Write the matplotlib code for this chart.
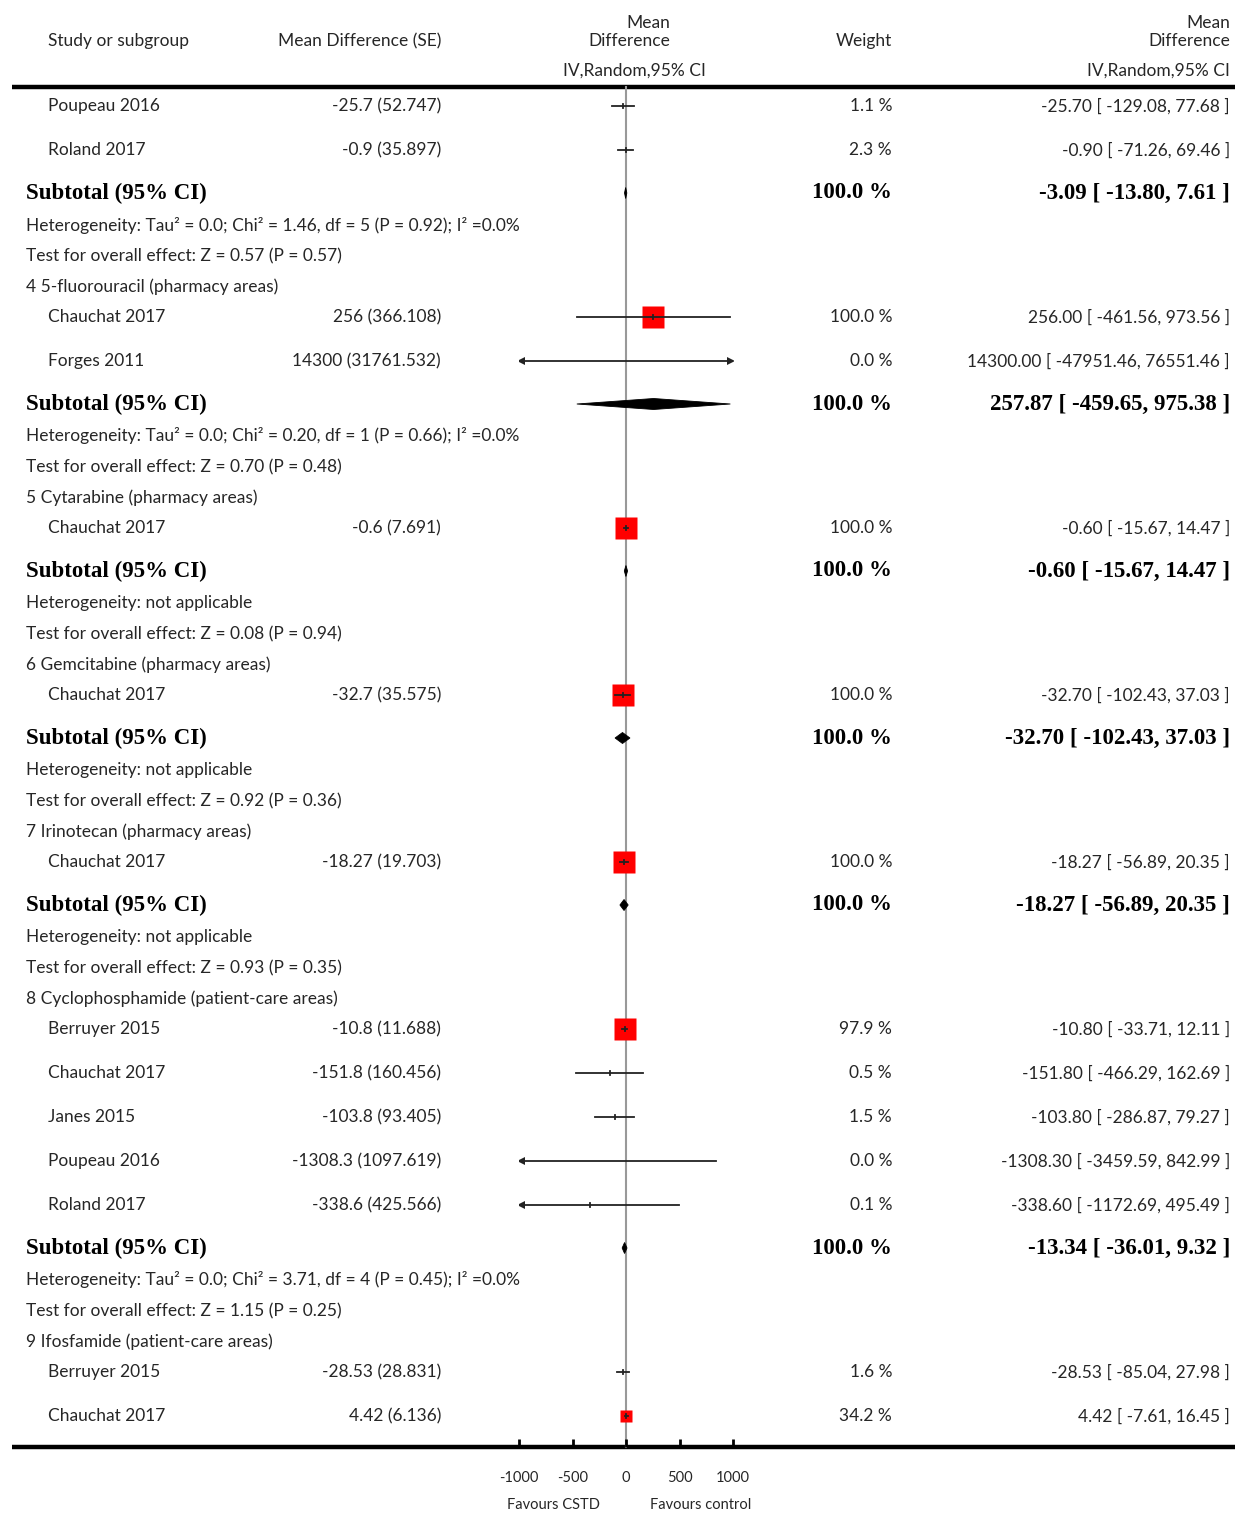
import matplotlib
matplotlib.use('Agg')
import matplotlib.pyplot as plt
import numpy as np

# --- data ---
group_titles = [None,
                '4 5-fluorouracil (pharmacy areas)',
                '5 Cytarabine (pharmacy areas)',
                '6 Gemcitabine (pharmacy areas)',
                '7 Irinotecan (pharmacy areas)',
                '8 Cyclophosphamide (patient-care areas)',
                '9 Ifosfamide (patient-care areas)']
study_names = [['Poupeau 2016', 'Roland 2017'],
               ['Chauchat 2017', 'Forges 2011'],
               ['Chauchat 2017'],
               ['Chauchat 2017'],
               ['Chauchat 2017'],
               ['Berruyer 2015', 'Chauchat 2017', 'Janes 2015', 'Poupeau 2016', 'Roland 2017'],
               ['Berruyer 2015', 'Chauchat 2017']]
study_md = [[-25.7, -0.9], [256, 14300], [-0.6], [-32.7], [-18.27],
            [-10.8, -151.8, -103.8, -1308.3, -338.6], [-28.53, 4.42]]
study_se = [[52.747, 35.897], [366.108, 31761.532], [7.691], [35.575], [19.703],
            [11.688, 160.456, 93.405, 1097.619, 425.566], [28.831, 6.136]]
study_weight = [[1.1, 2.3], [100.0, 0.0], [100.0], [100.0], [100.0],
                [97.9, 0.5, 1.5, 0.0, 0.1], [1.6, 34.2]]
study_lo = [[-129.08, -71.26], [-461.56, -47951.46], [-15.67], [-102.43], [-56.89],
            [-33.71, -466.29, -286.87, -3459.59, -1172.69], [-85.04, -7.61]]
study_hi = [[77.68, 69.46], [973.56, 76551.46], [14.47], [37.03], [20.35],
            [12.11, 162.69, 79.27, 842.99, 495.49], [27.98, 16.45]]

sub_md = [-3.09, 257.87, -0.60, -32.70, -18.27, -13.34]
sub_lo = [-13.80, -459.65, -15.67, -102.43, -56.89, -36.01]
sub_hi = [7.61, 975.38, 14.47, 37.03, 20.35, 9.32]
heterogeneity = ['Heterogeneity: Tau² = 0.0; Chi² = 1.46, df = 5 (P = 0.92); I² =0.0%',
                 'Heterogeneity: Tau² = 0.0; Chi² = 0.20, df = 1 (P = 0.66); I² =0.0%',
                 'Heterogeneity: not applicable',
                 'Heterogeneity: not applicable',
                 'Heterogeneity: not applicable',
                 'Heterogeneity: Tau² = 0.0; Chi² = 3.71, df = 4 (P = 0.45); I² =0.0%']
overall = ['Test for overall effect: Z = 0.57 (P = 0.57)',
           'Test for overall effect: Z = 0.70 (P = 0.48)',
           'Test for overall effect: Z = 0.08 (P = 0.94)',
           'Test for overall effect: Z = 0.92 (P = 0.36)',
           'Test for overall effect: Z = 0.93 (P = 0.35)',
           'Test for overall effect: Z = 1.15 (P = 0.25)']

x_ticks = [-1000, -500, 0, 500, 1000]
x_ticklabels = ['-1000', '-500', '0', '500', '1000']
favours_left = 'Favours CSTD'
favours_right = 'Favours control'

W, H = 1235, 1514
XLIM = 1000
SANS = ['Lato', 'DejaVu Sans']
SERIF = ['Liberation Serif', 'DejaVu Serif']
FS = 12.5
BFS = 16.5
TXT = '#262626'


def fmt(v):
    return f'{v:.10g}'


def label(x, y, s, ha='left', size=FS):
    ax.text(x, y, s, ha=ha, va='center', fontsize=size, family=SANS, color=TXT)


def bold(x, y, s, ha='left'):
    ax.text(x, y, s, ha=ha, va='center', fontsize=BFS, family=SERIF,
            fontweight='bold', color='black')


def study_row(y, name, md, se, w, lo, hi):
    label(48, y, name)
    label(441, y, f'{fmt(md)} ({fmt(se)})', ha='right')
    label(892, y, f'{w:.1f} %', ha='right')
    label(1230, y, f'{md:.2f} [ {lo:.2f}, {hi:.2f} ]', ha='right')
    # square sized by weight
    side = 22 * np.sqrt(w / 100.0)
    if w < 50:
        side *= 0.86
    if -XLIM < md < XLIM and side > 5:
        fx.plot(md, y, marker='s', ms=side * 0.72, mfc='#ff0000', mec='none', zorder=3)
    a, b = max(lo, -XLIM), min(hi, XLIM)
    fx.plot([a, b], [y, y], color='#222222', lw=1.3, zorder=4)
    if -XLIM < md < XLIM:
        fx.plot([md, md], [y - 2, y + 2], color='#222222', lw=1.3, zorder=4)
    if lo < -XLIM:
        fx.plot(-XLIM + 15, y, marker='<', ms=6, mew=0, color='#222222', zorder=4)
    if hi > XLIM:
        fx.plot(XLIM - 15, y, marker='>', ms=6, mew=0, color='#222222', zorder=4)


fig = plt.figure(figsize=(W / 100, H / 100), dpi=100)
# table axes in pixel units, forest axes in mean-difference units
ax = fig.add_axes([0, 0, 1, 1])
ax.set_xlim(0, W)
ax.set_ylim(H, 0)
ax.axis('off')

x0_px, x1_px = 519, 733
fx = fig.add_axes([x0_px / W, 0, (x1_px - x0_px) / W, 1])
fx.set_xlim(-XLIM, XLIM)
fx.set_ylim(H, 0)
fx.axis('off')

# header
label(48, 41, 'Study or subgroup')
label(441, 41, 'Mean Difference (SE)', ha='right')
label(670, 23, 'Mean', ha='right')
label(670, 41, 'Difference', ha='right')
label(634, 71, 'IV,Random,95% CI', ha='center')
label(892, 41, 'Weight', ha='right')
label(1230, 23, 'Mean', ha='right')
label(1230, 41, 'Difference', ha='right')
label(1230, 71, 'IV,Random,95% CI', ha='right')
ax.plot([12, W], [87, 87], color='black', lw=3.2, solid_capstyle='butt')

# body
y = 106
for g in range(len(group_titles)):
    if group_titles[g] is not None:
        label(26, y, group_titles[g])
        y += 30
    for i, name in enumerate(study_names[g]):
        study_row(y, name, study_md[g][i], study_se[g][i], study_weight[g][i],
                  study_lo[g][i], study_hi[g][i])
        y += 44
    if g >= len(sub_md):
        break  # last subgroup is cut off before its subtotal
    y -= 1
    bold(26, y, 'Subtotal (95% CI)')
    bold(892, y, '100.0 %', ha='right')
    bold(1230, y, f'{sub_md[g]:.2f} [ {sub_lo[g]:.2f}, {sub_hi[g]:.2f} ]', ha='right')
    fx.fill([sub_lo[g], sub_md[g], sub_hi[g], sub_md[g]],
            [y, y - 5.5, y, y + 5.5], color='black', lw=0.6, zorder=4)
    y += 32
    label(26, y, heterogeneity[g])
    y += 31
    label(26, y, overall[g])
    y += 31

# no-effect line and bottom rule
fx.plot([0, 0], [87, 1447], color='#999999', lw=1.5, zorder=1)
ax.plot([12, W], [1447, 1447], color='black', lw=3.2, solid_capstyle='butt')

# x axis
axx = fig.add_axes([x0_px / W, 1 - 1447 / H, (x1_px - x0_px) / W, 0.0001])
axx.set_xlim(-XLIM, XLIM)
axx.set_yticks([])
for s in axx.spines.values():
    s.set_visible(False)
axx.patch.set_alpha(0)
axx.set_xticks(x_ticks)
axx.set_xticklabels(x_ticklabels, family=SANS, fontsize=10.5, color=TXT)
axx.tick_params(axis='x', direction='in', length=6, width=2, color='black', pad=17)
fx.text(-682, 1505, favours_left, ha='center', va='center', fontsize=10.5,
        family=SANS, color=TXT)
fx.text(701, 1505, favours_right, ha='center', va='center', fontsize=10.5,
        family=SANS, color=TXT)

fig.savefig('out.png', dpi=100)
